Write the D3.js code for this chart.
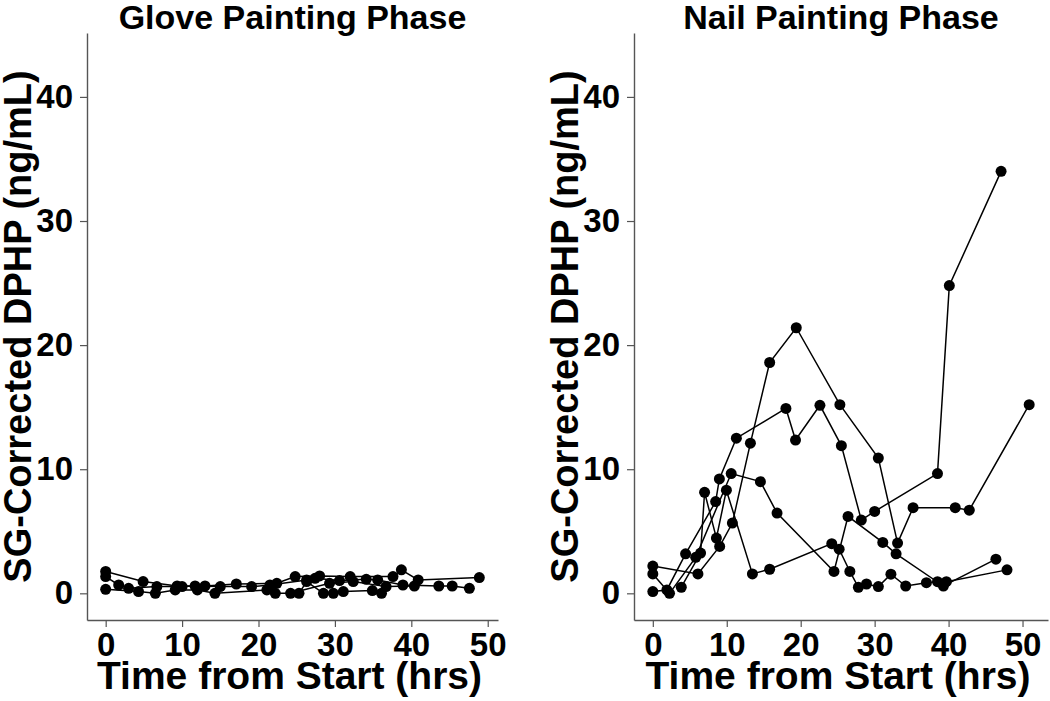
<!DOCTYPE html>
<html>
<head>
<meta charset="utf-8">
<script src="https://cdn.jsdelivr.net/npm/d3@7"></script>
<style>
  body { margin: 0; background: #fff; }
  text { font-family: "Liberation Sans", Arial, sans-serif; font-weight: bold; fill: #000; }
</style>
</head>
<body>
<svg id="chart" width="1050" height="701"></svg>
<script>
// Each series: [hours from start, SG-corrected DPHP ng/mL]
var gloveA = [[0,1.76],[4.9,0.95],[9.35,0.59],[13,0.59],[17.1,0.75],[22.4,0.81],[24.8,1.35],[28,1.4],[32,1.35],[37.6,1.35],[38.7,1.89],[40.9,1.08],[48.9,1.27]];
var gloveB = [[0,1.35],[1.7,0.67],[3,0.4],[6.7,0.54],[10,0.54],[11.7,0.59],[15,0.54],[19.1,0.54],[21.5,0.67],[26.3,1.08],[27.4,1.21],[30.6,1.03],[34.1,1.13],[35.6,1.08],[38.9,0.67],[43.6,0.59],[45.35,0.59],[47.6,0.4]];
var gloveC = [[0,0.32],[4.3,0.14],[6.5,0],[9.1,0.27],[12,0.27],[14.3,0],[21.1,0.27],[22.2,0],[24.2,0],[29.3,0.81],[32.4,0.95],[36.7,0.54],[40.4,0.59]];
var gloveD = [[25.3,0],[26.3,0.95],[28.5,0],[29.8,0],[31.1,0.14],[34.9,0.22],[36.1,0]];

var nailA = [[0,0.14],[1.9,0.27],[4.43,3.18],[8.5,7.39],[9,9.22],[11.3,12.5],[18,14.9],[19.3,12.35],[22.6,15.15],[25.5,11.9],[28.2,5.9],[30,6.6],[38.5,9.65],[40.1,24.8],[47.1,34]];
var nailB = [[0,2.2],[6.1,1.56],[9.04,3.78],[10.76,5.66],[13.2,12.1],[15.8,18.6],[19.4,21.4],[25.3,15.2],[30.5,10.9],[33.1,4.05],[35.2,6.9],[40.9,6.9],[42.8,6.7],[50.9,15.2]];
var nailC = [[0,1.56],[2.26,0],[5.8,2.9],[10.6,9.65],[14.55,9],[16.8,6.47],[24.5,1.76],[26.4,6.2],[31.1,4.1],[32.9,3.18],[39.3,0.59],[46.4,2.75]];
var nailD = [[3.85,0.49],[6.46,3.24],[7,8.14],[8.6,4.45],[9.95,8.31],[13.47,1.56],[15.8,1.94],[24.2,4],[25.2,3.56],[26.65,1.76],[27.8,0.49],[28.9,0.75],[30.5,0.54],[32.2,1.54],[34.2,0.59],[37,0.86],[38.5,0.94],[39.7,0.94],[47.9,1.89]];

var gloveSeries = [gloveA, gloveB, gloveC, gloveD];
var nailSeries = [nailA, nailB, nailC, nailD];

var panelTitles = ["Glove Painting Phase", "Nail Painting Phase"];
var xTickValues = [0, 10, 20, 30, 40, 50];
var yTickValues = [0, 10, 20, 30, 40];
var yLimits = [0, 43];
var xLabel = "Time from Start (hrs)";
var yLabel = "SG-Corrected DPHP (ng/mL)";

var svg = d3.select("#chart");
var plotTop = 33, plotBottom = 620;

// ggplot style 5% expansion
function expand(ext) {
    var pad = (ext[1] - ext[0]) * 0.05;
    return [ext[0] - pad, ext[1] + pad];
}

var yScale = d3.scaleLinear().domain(expand(yLimits)).range([plotBottom, plotTop]);

function drawPanel(series, title, left, right) {
    var allPts = [].concat.apply([], series);
    var xScale = d3.scaleLinear()
        .domain(expand(d3.extent(allPts, function(d) { return d[0]; })))
        .range([left, right]);

    var g = svg.append("g");

    // lines
    var line = d3.line()
        .x(function(d) { return xScale(d[0]); })
        .y(function(d) { return yScale(d[1]); });

    g.selectAll(".series")
        .data(series)
        .enter()
        .append("path")
        .attr("class", "series")
        .attr("d", line)
        .attr("fill", "none")
        .attr("stroke", "#000")
        .attr("stroke-width", 1.5);

    // points
    g.selectAll(".pt")
        .data(allPts)
        .enter()
        .append("circle")
        .attr("class", "pt")
        .attr("cx", function(d) { return xScale(d[0]); })
        .attr("cy", function(d) { return yScale(d[1]); })
        .attr("r", 5.5)
        .attr("fill", "#000");

    // axes
    var xAxis = d3.axisBottom(xScale).tickValues(xTickValues).tickSize(7).tickSizeOuter(0).tickPadding(6);
    var yAxis = d3.axisLeft(yScale).tickValues(yTickValues).tickSize(7).tickSizeOuter(0).tickPadding(7);

    var gx = g.append("g")
        .attr("transform", "translate(0," + plotBottom + ")")
        .call(xAxis);
    var gy = g.append("g")
        .attr("transform", "translate(" + left + ",0)")
        .call(yAxis);

    [gx, gy].forEach(function(a) {
        a.select(".domain").attr("stroke", "#555").attr("stroke-width", 1.4);
        a.selectAll(".tick line").attr("stroke", "#555").attr("stroke-width", 1.2);
        a.selectAll(".tick text")
            .style("font-size", "33px")
            .style("font-family", "'Liberation Sans', Arial, sans-serif")
            .style("font-weight", "bold")
            .attr("fill", "#000");
    });

    // x axis label
    g.append("text")
        .attr("x", (left + right) / 2 - 3)
        .attr("y", 689)
        .attr("text-anchor", "middle")
        .style("font-size", "39px")
        .text(xLabel);

    // y axis label
    g.append("text")
        .attr("transform", "translate(" + (left - 56) + "," + ((plotTop + plotBottom) / 2) + ") rotate(-90)")
        .attr("text-anchor", "middle")
        .style("font-size", "38px")
        .text(yLabel);

    // panel title
    g.append("text")
        .attr("x", (left + right) / 2)
        .attr("y", 29)
        .attr("text-anchor", "middle")
        .style("font-size", "34px")
        .text(title);
}

drawPanel(gloveSeries, panelTitles[0], 87, 498);
drawPanel(nailSeries, panelTitles[1], 634, 1048);
</script>
</body>
</html>
